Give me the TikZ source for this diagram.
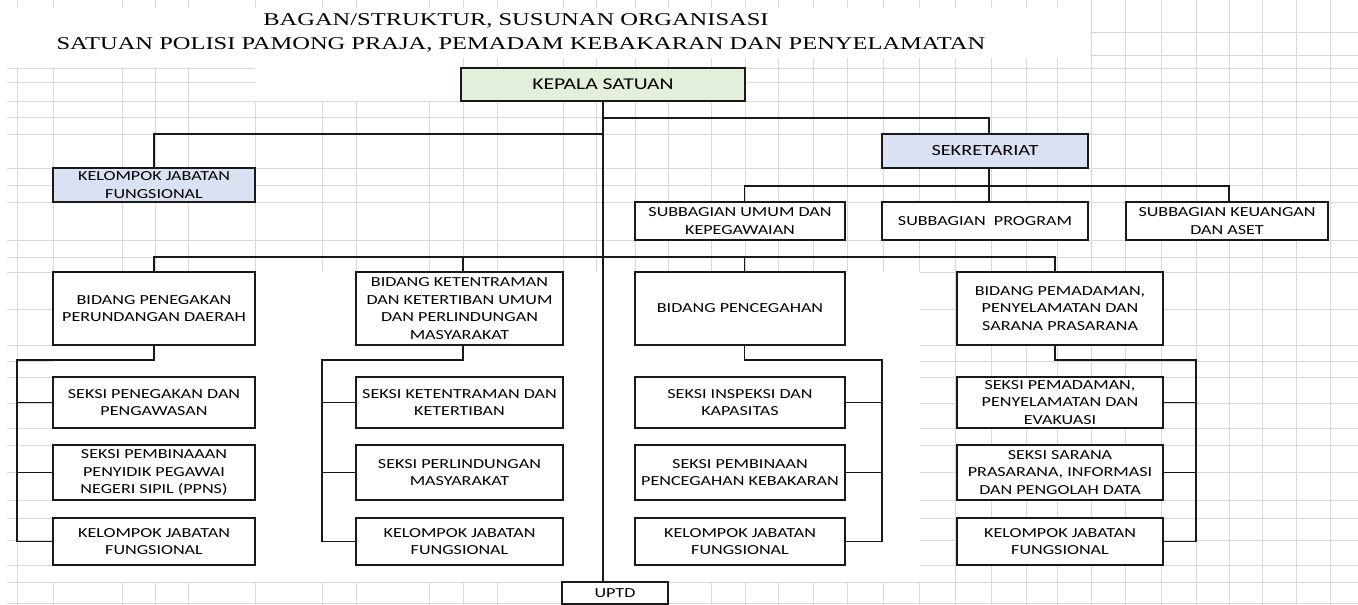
\documentclass[tikz,border=0pt]{standalone}
\usepackage{fontspec}
\setmainfont{Carlito}[FakeStretch=1.31]
\newfontfamily\titlefont{Liberation Serif}[FakeStretch=1.36]
\definecolor{kgreen}{HTML}{E2EFDA}
\definecolor{kblue}{HTML}{D9E1F2}
\definecolor{gridc}{HTML}{D9D9D9}
\tikzset{
  gridline/.style={draw=gridc, line width=0.9pt},
  box/.style={draw=black!90, line width=1.1pt, fill=white, inner sep=0pt, align=center,
    font=\fontsize{13.8}{17.5}\selectfont},
  conn/.style={draw=black!90, line width=1.1pt},
  ttl/.style={inner sep=0pt, anchor=base, font=\titlefont\fontsize{18}{20}\selectfont}
}
\begin{document}
\begin{tikzpicture}[x=1pt,y=-1pt]
\useasboundingbox (0,0) rectangle (1358,605);
% spreadsheet grid
\foreach \gx in {17,53,122,155,188,255,322,356,429,463,497,563,596,635,668,711,745,778,813,847,883,919,955,991,1026,1057,1091,1125,1161,1196,1229,1262,1296,1330}
  \draw[gridline] (\gx,0) -- (\gx,605);
\foreach \gy in {32,55,68,82,101,117,134,168,185,202,240,257,272,309,345,361,377,403,428,445,472,500,518,540,565,582,603}
  \draw[gridline] (7,\gy) -- (1358,\gy);
\fill[white] (0,8) rectangle (1090,58);
\fill[white] (0,58) rectangle (461,67);
\fill[white] (255,58) rectangle (461,101);
\fill[white] (53,345) rectangle (920,582);
\fill[white] (255,272) rectangle (356,345);
\fill[white] (563,272) rectangle (635,345);
\fill[white] (845,272) rectangle (920,345);
% title
\node[ttl] (t1) at (516,25) {BAGAN/STRUKTUR, SUSUNAN ORGANISASI};
\node[ttl] (t2) at (521,49) {SATUAN POLISI PAMONG PRAJA, PEMADAM KEBAKARAN DAN PENYELAMATAN};
% top level
\node[box, fill=kgreen, minimum width=284pt, minimum height=33pt, font=\fontsize{16.5}{19}\selectfont] (kepala) at (603,84.5) {KEPALA SATUAN};
\node[box, fill=kblue, minimum width=202pt, minimum height=34pt] (kjf0) at (154,185) {KELOMPOK JABATAN\\FUNGSIONAL};
\node[box, fill=kblue, minimum width=206pt, minimum height=34pt, font=\fontsize{15.5}{18}\selectfont] (sekr) at (985,151) {SEKRETARIAT};
\node[box, minimum width=210pt, minimum height=38pt] (sub1) at (740,221) {SUBBAGIAN UMUM DAN\\KEPEGAWAIAN};
\node[box, minimum width=206pt, minimum height=38pt] (sub2) at (985,221) {SUBBAGIAN\ \ PROGRAM};
\node[box, minimum width=202pt, minimum height=38pt] (sub3) at (1227,221) {SUBBAGIAN KEUANGAN\\DAN ASET};
% bidang
\node[box, minimum width=202pt, minimum height=73pt] (b1) at (154,308.5) {BIDANG PENEGAKAN\\PERUNDANGAN DAERAH};
\node[box, minimum width=207pt, minimum height=73pt] (b2) at (459.5,308.5) {BIDANG KETENTRAMAN\\DAN KETERTIBAN UMUM\\DAN PERLINDUNGAN\\MASYARAKAT};
\node[box, minimum width=210pt, minimum height=73pt] (b3) at (740,308.5) {BIDANG PENCEGAHAN};
\node[box, minimum width=206pt, minimum height=73pt] (b4) at (1060,308.5) {BIDANG PEMADAMAN,\\PENYELAMATAN DAN\\SARANA PRASARANA};
% seksi column 1
\node[box, minimum width=202pt, minimum height=51pt] (s11) at (154,402.5) {SEKSI PENEGAKAN DAN\\PENGAWASAN};
\node[box, minimum width=202pt, minimum height=55pt] (s12) at (154,472.5) {SEKSI PEMBINAAAN\\PENYIDIK PEGAWAI\\NEGERI SIPIL (PPNS)};
\node[box, minimum width=202pt, minimum height=47pt] (s13) at (154,541.5) {KELOMPOK JABATAN\\FUNGSIONAL};
% column 2
\node[box, minimum width=207pt, minimum height=51pt] (s21) at (459.5,402.5) {SEKSI KETENTRAMAN DAN\\KETERTIBAN};
\node[box, minimum width=207pt, minimum height=55pt] (s22) at (459.5,472.5) {SEKSI PERLINDUNGAN\\MASYARAKAT};
\node[box, minimum width=207pt, minimum height=47pt] (s23) at (459.5,541.5) {KELOMPOK JABATAN\\FUNGSIONAL};
% column 3
\node[box, minimum width=210pt, minimum height=51pt] (s31) at (740,402.5) {SEKSI INSPEKSI DAN\\KAPASITAS};
\node[box, minimum width=210pt, minimum height=55pt] (s32) at (740,472.5) {SEKSI PEMBINAAN\\PENCEGAHAN KEBAKARAN};
\node[box, minimum width=210pt, minimum height=47pt] (s33) at (740,541.5) {KELOMPOK JABATAN\\FUNGSIONAL};
% column 4
\node[box, minimum width=206pt, minimum height=51pt] (s41) at (1060,402.5) {SEKSI PEMADAMAN,\\PENYELAMATAN DAN\\EVAKUASI};
\node[box, minimum width=206pt, minimum height=55pt] (s42) at (1060,472.5) {SEKSI SARANA\\PRASARANA, INFORMASI\\DAN PENGOLAH DATA};
\node[box, minimum width=206pt, minimum height=47pt] (s43) at (1060,541.5) {KELOMPOK JABATAN\\FUNGSIONAL};
% uptd
\node[box, minimum width=106pt, minimum height=22pt] (uptd) at (615,593) {UPTD};
% helper coordinates
\coordinate (h1) at (0,118);
\coordinate (h2) at (0,134);
\coordinate (h3) at (0,186);
\coordinate (h4) at (0,257);
\coordinate (h5) at (0,360);
\coordinate (v1) at (17,0);
\coordinate (v2) at (322,0);
\coordinate (v3) at (882,0);
\coordinate (v4) at (1196,0);
% connection points (as placed in the reference)
\coordinate (sekrT) at ([xshift=4pt]sekr.north);
\coordinate (sekrB) at ([xshift=4pt]sekr.south);
\coordinate (sub1T) at ([xshift=4.5pt]sub1.north);
\coordinate (sub2T) at ([xshift=4pt]sub2.north);
\coordinate (sub3T) at ([xshift=2pt]sub3.north);
\coordinate (b2T) at ([xshift=3.5pt]b2.north);
\coordinate (b3T) at ([xshift=4.5pt]b3.north);
\coordinate (b4T) at ([xshift=-5pt]b4.north);
\coordinate (b2B) at ([xshift=3.5pt]b2.south);
\coordinate (b3B) at ([xshift=4.5pt]b3.south);
\coordinate (b4B) at ([xshift=-5pt]b4.south);
% connectors
\draw[conn] (kepala.south) -- (kepala.south |- uptd.north);
\draw[conn] (kepala.south |- h1) -| (sekrT);
\draw[conn] (kepala.south |- h2) -| (kjf0.north);
\draw[conn] (sekrB) -- (sub2T);
\draw[conn] (sub1T) |- (sekrB |- h3) -| (sub3T);
\draw[conn] (b1.north) |- (b4T |- h4) -- (b4T);
\draw[conn] (b2T) -- (b2T |- h4);
\draw[conn] (b3T) -- (b3T |- h4);
% column buses
\draw[conn] (b1.south) |- (v1 |- h5) |- (s13.west);
\draw[conn] (v1 |- s11.west) -- (s11.west);
\draw[conn] (v1 |- s12.west) -- (s12.west);
\draw[conn] (b2B) |- (v2 |- h5) |- (s23.west);
\draw[conn] (v2 |- s21.west) -- (s21.west);
\draw[conn] (v2 |- s22.west) -- (s22.west);
\draw[conn] (b3B) |- (v3 |- h5) |- (s33.east);
\draw[conn] (v3 |- s31.east) -- (s31.east);
\draw[conn] (v3 |- s32.east) -- (s32.east);
\draw[conn] (b4B) |- (v4 |- h5) |- (s43.east);
\draw[conn] (v4 |- s41.east) -- (s41.east);
\draw[conn] (v4 |- s42.east) -- (s42.east);
\end{tikzpicture}
\end{document}
